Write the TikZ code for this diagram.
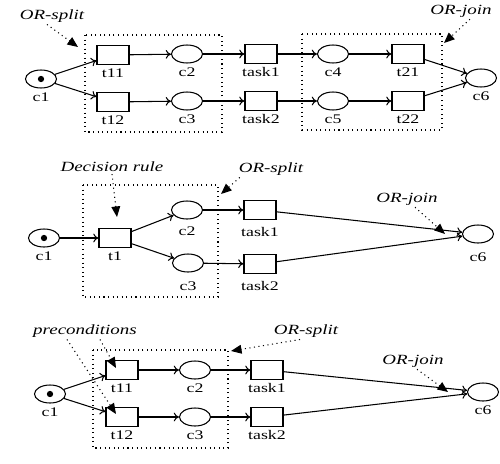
\documentclass[tikz,border=0pt]{standalone}
\usepackage{fontspec}
\newfontfamily\lblfont[FakeStretch=1.35]{Liberation Serif}
\usetikzlibrary{arrows.meta, shapes.geometric}

\begin{document}
\begin{tikzpicture}[x=0.02cm, y=-0.02cm,
    place/.style={ellipse, draw, line width=0.6pt, minimum width=0.62cm, minimum height=0.36cm, inner sep=0pt},
    trans/.style={rectangle, draw, line width=0.6pt, minimum width=0.64cm, minimum height=0.38cm, inner sep=0pt},
    every label/.style={font=\lblfont\fontsize{7.5}{8}\selectfont, text height=5pt, text depth=0pt, inner sep=1pt},
    label distance=1pt,
    arc/.style={line width=0.6pt, -{To[length=3pt, width=5pt]}},
    orbox/.style={dotted, line width=0.6pt},
    note/.style={font=\lblfont\itshape\fontsize{8}{9}\selectfont, inner sep=1pt},
    notearrow/.style={dotted, line width=0.6pt, -{Triangle[length=6pt, width=5pt]}}]
  \useasboundingbox (0,0) rectangle (500,463);

  % OR-split / OR-join
  \node[place, label=below:c1] (A-c1) at (41,79) {};
  \fill (A-c1) circle (1.8pt);
  \node[trans, label=below:t11] (A-t11) at (113,55) {};
  \node[trans, label=below:t12] (A-t12) at (113,102) {};
  \node[place, label=below:c2] (A-c2) at (187,54) {};
  \node[place, label=below:c3] (A-c3) at (187,101) {};
  \node[trans, label=below:task1] (A-task1) at (261,54) {};
  \node[trans, label=below:task2] (A-task2) at (261,101) {};
  \node[place, label=below:c4] (A-c4) at (333,54) {};
  \node[place, label=below:c5] (A-c5) at (333,101) {};
  \node[trans, label=below:t21] (A-t21) at (408,54) {};
  \node[trans, label=below:t22] (A-t22) at (408,101) {};
  \node[place, label=below:c6] (A-c6) at (481,78) {};
  \draw[arc] (A-c1) -- (A-t11);
  \draw[arc] (A-c1) -- (A-t12);
  \draw[arc] (A-t11) -- (A-c2);
  \draw[arc] (A-t12) -- (A-c3);
  \draw[arc] (A-c2) -- (A-task1);
  \draw[arc] (A-c3) -- (A-task2);
  \draw[arc] (A-task1) -- (A-c4);
  \draw[arc] (A-task2) -- (A-c5);
  \draw[arc] (A-c4) -- (A-t21);
  \draw[arc] (A-c5) -- (A-t22);
  \draw[arc] (A-t21) -- (A-c6);
  \draw[arc] (A-t22) -- (A-c6);
  \draw[orbox] (85,35) rectangle (222,132);
  \draw[orbox] (302,34) rectangle (442,130);
  \node[note] (A-split) at (52,16) {OR-split};
  \coordinate (A-splittip) at (78,47);
  \draw[notearrow] ([xshift=-0.1cm]A-split.south) -- (A-splittip);
  \node[note] (A-join) at (461,11) {OR-join};
  \coordinate (A-jointip) at (444,43);
  \draw[notearrow] ([xshift=0.18cm]A-join.south) -- (A-jointip);

  % decision rule
  \node[place, label=below:c1] (B-c1) at (44,238) {};
  \fill (B-c1) circle (1.8pt);
  \node[trans, label=below:t1] (B-t1) at (115,238) {};
  \node[place, label={[label distance=3pt]below:c2}] (B-c2) at (187,210) {};
  \node[place, label={[label distance=4pt]below:c3}] (B-c3) at (188,263) {};
  \node[trans, label={[label distance=3pt]below:task1}] (B-task1) at (260,210) {};
  \node[trans, label={[label distance=3pt]below:task2}] (B-task2) at (260,264) {};
  \node[place, label={[label distance=4pt]below:c6}] (B-c6) at (478,234) {};
  \draw[arc] (B-c1) -- (B-t1);
  \draw[arc] (B-t1) -- (B-c2);
  \draw[arc] (B-t1) -- (B-c3);
  \draw[arc] (B-c2) -- (B-task1);
  \draw[arc] (B-c3) -- (B-task2);
  \draw[arc] (B-task1) -- (B-c6);
  \draw[arc] (B-task2) -- (B-c6);
  \draw[orbox] (83,185) rectangle (218,297);
  \node[note] (B-rule) at (112,167) {Decision rule};
  \coordinate (B-ruletip) at (117,217);
  \draw[notearrow] (B-rule.south) -- (B-ruletip);
  \node[note] (B-split) at (271,169) {OR-split};
  \coordinate (B-splittip) at (221,194);
  \draw[notearrow] ([xshift=0.06cm]B-split.south west) -- (B-splittip);
  \node[note] (B-join) at (407,199) {OR-join};
  \coordinate (B-jointip) at (445,234);
  \draw[notearrow] ([xshift=0.16cm]B-join.south) -- (B-jointip);

  % preconditions
  \node[place, label=below:c1] (C-c1) at (50,394) {};
  \fill (C-c1) circle (1.8pt);
  \node[trans, label=below:t11] (C-t11) at (122,370) {};
  \node[trans, label=below:t12] (C-t12) at (122,417) {};
  \node[place, label=below:c2] (C-c2) at (195,370) {};
  \node[place, label=below:c3] (C-c3) at (195,417) {};
  \node[trans, label=below:task1] (C-task1) at (267,370) {};
  \node[trans, label=below:task2] (C-task2) at (267,417) {};
  \node[place, label=below:c6] (C-c6) at (483,392) {};
  \draw[arc] (C-c1) -- (C-t11);
  \draw[arc] (C-c1) -- (C-t12);
  \draw[arc] (C-t11) -- (C-c2);
  \draw[arc] (C-t12) -- (C-c3);
  \draw[arc] (C-c2) -- (C-task1);
  \draw[arc] (C-c3) -- (C-task2);
  \draw[arc] (C-task1) -- (C-c6);
  \draw[arc] (C-task2) -- (C-c6);
  \draw[orbox] (93,350) rectangle (228,448);
  \node[note] (C-pre) at (85,331) {preconditions};
  \coordinate (C-pretip1) at (116,368);
  \coordinate (C-pretip2) at (116,414);
  \draw[notearrow] ([xshift=0.3cm]C-pre.south) -- (C-pretip1);
  \draw[notearrow] ([xshift=-0.36cm]C-pre.south) -- (C-pretip2);
  \node[note] (C-split) at (306,331) {OR-split};
  \coordinate (C-splittip) at (231,351);
  \draw[notearrow] ([xshift=-0.12cm]C-split.south) -- (C-splittip);
  \node[note] (C-join) at (413,361) {OR-join};
  \coordinate (C-jointip) at (448,392);
  \draw[notearrow] ([xshift=0.08cm]C-join.south) -- (C-jointip);
\end{tikzpicture}
\end{document}
